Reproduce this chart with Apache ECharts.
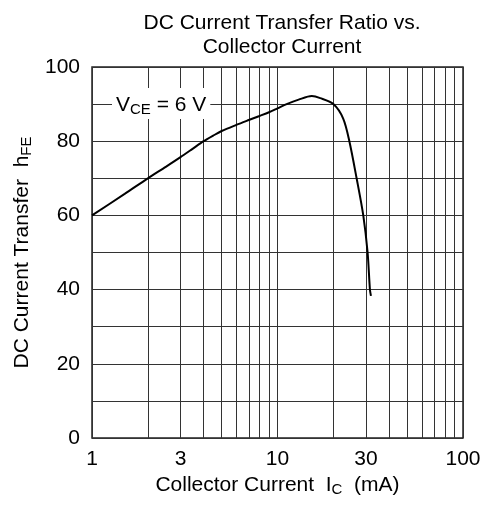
<!DOCTYPE html>
<html>
<head>
<meta charset="utf-8">
<script src="https://cdn.jsdelivr.net/npm/echarts@6/dist/echarts.min.js"></script>
<style>html,body{margin:0;padding:0;background:#fff}#c{width:491px;height:506px}</style>
</head>
<body>
<div id="c"></div>
<script>
var collectorCurrent = [1, 1.5, 2, 2.5, 3, 3.5, 4, 4.5, 5, 6, 7, 8, 9, 10, 11.2, 13, 15.3, 17, 20, 22.6, 24.4, 26.7, 29, 30.6, 31.5, 31.9];
var hFE = [60, 65.8, 70, 73.1, 75.7, 78, 80, 81.5, 82.75, 84.4, 85.7, 86.8, 87.8, 88.85, 90, 91.2, 92.15, 91.6, 90, 86.1, 80, 70, 60, 50, 40, 38.3];
var xTickLabels = [1, 3, 10, 30, 100];
var xMinorGrid = [2, 3, 4, 5, 6, 7, 8, 9, 20, 30, 40, 50, 60, 70, 80, 90];
var yTickLabels = [0, 20, 40, 60, 80, 100];

var chart = echarts.init(document.getElementById('c'));
var font = 'Liberation Sans, Arial, sans-serif';
chart.setOption({
  animation: false,
  title: {
    text: 'DC Current Transfer Ratio vs.\nCollector Current',
    left: 277, top: 6, textAlign: 'center',
    textStyle: { fontFamily: font, fontSize: 21, fontWeight: 'normal', color: '#000', lineHeight: 24 }
  },
  grid: { left: 92, right: 28, top: 67, bottom: 68, show: true, borderColor: '#222', borderWidth: 1.5 },
  xAxis: {
    type: 'log', logBase: 10, min: 1, max: 100,
    axisLine: { show: false }, axisTick: { show: false },
    splitLine: { show: true, lineStyle: { color: '#333', width: 1 } },
    axisLabel: {
      customValues: xTickLabels,
      fontFamily: font, fontSize: 21, color: '#000', margin: 11
    },
    name: '{n|Collector Current  I}{s|C}{n|  (mA)}',
    nameLocation: 'middle', nameGap: 30,
    nameTextStyle: {
      rich: {
        n: { fontFamily: font, fontSize: 21, color: '#000' },
        s: { fontFamily: font, fontSize: 15, color: '#000', padding: [0, 0, -9, 0] }
      }
    }
  },
  yAxis: {
    type: 'value', min: 0, max: 100, interval: 10,
    axisLine: { show: false }, axisTick: { show: false },
    splitLine: { show: true, lineStyle: { color: '#333', width: 1 } },
    axisLabel: {
      fontFamily: font, fontSize: 21, color: '#000', margin: 12,
      formatter: function (v) { return yTickLabels.indexOf(v) >= 0 ? String(v) : ''; }
    },
    name: '{n|DC Current Transfer  h}{s|FE}',
    nameLocation: 'middle', nameGap: 58, nameRotate: 90,
    nameTextStyle: {
      rich: {
        n: { fontFamily: font, fontSize: 21, color: '#000' },
        s: { fontFamily: font, fontSize: 15, color: '#000', padding: [0, 0, -9, 0] }
      }
    }
  },
  graphic: [{
    type: 'text', left: 112, top: 88, z: 100,
    style: {
      text: '{n|V}{s|CE}{n| = 6 V}',
      backgroundColor: '#fff', padding: [7, 4, 3, 4],
      rich: {
        n: { fontFamily: font, fontSize: 21, fill: '#000' },
        s: { fontFamily: font, fontSize: 15, fill: '#000', padding: [0, 0, -9, 0] }
      }
    }
  }],
  series: [{
    type: 'line',
    data: collectorCurrent.map(function (x, i) { return [x, hFE[i]]; }),
    smooth: 0.3, showSymbol: false, symbol: 'none',
    lineStyle: { color: '#000', width: 2 },
    z: 5,
    markLine: {
      silent: true, symbol: 'none', animation: false,
      label: { show: false },
      lineStyle: { color: '#333', width: 1, type: 'solid' },
      data: xMinorGrid.map(function (v) { return { xAxis: v }; })
    }
  }]
});
</script>
</body>
</html>
